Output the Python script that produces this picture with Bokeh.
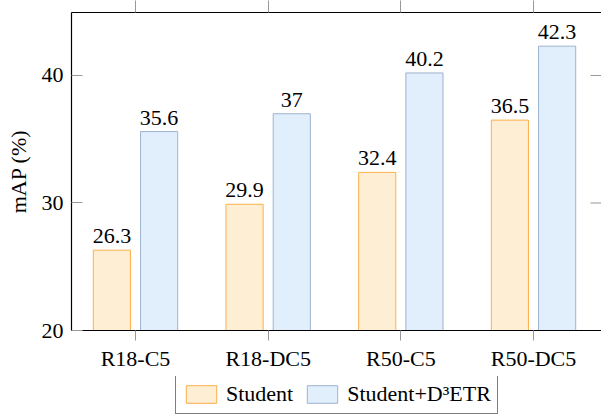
import numpy as np
from bokeh.plotting import figure
from bokeh.models import (Range1d, FixedTicker, LinearAxis, Legend, LegendItem,
                          ColumnDataSource, LabelSet)
from bokeh.layouts import column
from bokeh.transform import dodge
from bokeh.embed import file_html
from bokeh.resources import INLINE

categories = ["R18-C5", "R18-DC5", "R50-C5", "R50-DC5"]
student = [26.3, 29.9, 32.4, 36.5]
d3etr = [35.6, 37, 40.2, 42.3]
y_ticks = [20, 30, 40]
series_names = ["Student", "Student+D³ETR"]

FONT = "Liberation Serif"
FS = "22px"
S_FILL, S_LINE = "#fdeed4", "#fbb04c"
D_FILL, D_LINE = "#e1eefc", "#9db3cf"
TICK_COLOR = "#999999"

X_START, X_END = -0.4824, 3.5125
Y_START, Y_END = 20, 44.94

xs = list(range(len(categories)))
src = ColumnDataSource(dict(
    x=xs,
    student=student,
    d3etr=d3etr,
    student_lbl=[f"{v:g}" for v in student],
    d3etr_lbl=[f"{v:g}" for v in d3etr],
))

p = figure(width=601, height=376, output_backend="svg", toolbar_location=None,
           x_range=Range1d(X_START, X_END), y_range=Range1d(Y_START, Y_END),
           min_border_left=71, min_border_top=12, min_border_right=0, min_border_bottom=46)

p.xgrid.visible = False
p.ygrid.visible = False
p.outline_line_color = None

off = 0.178
bw = 0.28
r1 = p.vbar(x=dodge("x", -off, range=p.x_range), top="student", bottom=Y_START, width=bw,
            source=src, fill_color=S_FILL, line_color=S_LINE, line_width=1)
r2 = p.vbar(x=dodge("x", off, range=p.x_range), top="d3etr", bottom=Y_START, width=bw,
            source=src, fill_color=D_FILL, line_color=D_LINE, line_width=1)

for col, lbl, o in (("student", "student_lbl", -off), ("d3etr", "d3etr_lbl", off)):
    ls = LabelSet(x=dodge("x", o, range=p.x_range), y=col, text=lbl, source=src,
                  text_align="center", text_baseline="alphabetic", y_offset=7,
                  text_font=FONT, text_font_size=FS, text_color="black")
    p.add_layout(ls)

# right-side inner ticks (mirror of the y ticks)
p.ray(x=[X_END] * len(y_ticks), y=y_ticks, length=11, length_units="screen",
      angle=np.pi, line_color=TICK_COLOR, line_width=1)

# bottom axis
xa = p.xaxis[0]
xa.ticker = FixedTicker(ticks=xs)
xa.major_label_overrides = {i: c for i, c in enumerate(categories)}
xa.major_label_text_font = FONT
xa.major_label_text_font_size = FS
xa.major_label_text_color = "black"
xa.major_tick_in = 0
xa.major_tick_out = 10
xa.major_tick_line_color = TICK_COLOR
xa.minor_tick_line_color = None
xa.axis_line_color = "black"
xa.axis_line_width = 1.2
xa.major_label_standoff = 5

# left axis
ya = p.yaxis[0]
ya.ticker = FixedTicker(ticks=y_ticks)
ya.major_label_text_font = FONT
ya.major_label_text_font_size = FS
ya.major_label_text_color = "black"
ya.major_tick_in = 11
ya.major_tick_out = 0
ya.major_tick_line_color = TICK_COLOR
ya.minor_tick_line_color = None
ya.axis_line_color = "black"
ya.axis_line_width = 1.2
ya.axis_label = "mAP (%)"
ya.axis_label_text_font = FONT
ya.axis_label_text_font_size = FS
ya.axis_label_text_font_style = "normal"
ya.axis_label_text_color = "black"
ya.major_label_standoff = 8
ya.axis_label_standoff = 8

# top axis (frame top line, ticks outside, no labels)
ta = LinearAxis(ticker=FixedTicker(ticks=xs), major_label_overrides={t: "" for t in xs},
                major_label_standoff=0, major_tick_in=0, major_tick_out=12,
                major_tick_line_color=TICK_COLOR, minor_tick_line_color=None,
                axis_line_color="black", axis_line_width=1.2)
p.add_layout(ta, "above")

# legend strip below the chart (its renderers are kept out of view)
lg = figure(width=601, height=40, output_backend="svg", toolbar_location=None,
            x_axis_location=None, y_axis_location=None,
            x_range=Range1d(100, 101), y_range=Range1d(100, 101),
            min_border_left=0, min_border_top=0, min_border_right=0, min_border_bottom=0)
lg.outline_line_color = None
lg.xgrid.visible = False
lg.ygrid.visible = False
d1 = lg.vbar(x="x", top="student", width=bw, source=src,
             fill_color=S_FILL, line_color=S_LINE, line_width=1)
d2 = lg.vbar(x="x", top="d3etr", width=bw, source=src,
             fill_color=D_FILL, line_color=D_LINE, line_width=1)

legend = Legend(items=[LegendItem(label=series_names[0], renderers=[d1]),
                       LegendItem(label=series_names[1], renderers=[d2])],
                orientation="horizontal", location=(104, 2),
                label_text_font=FONT, label_text_font_size=FS, label_text_color="black",
                glyph_width=38, glyph_height=22, label_height=22,
                label_standoff=6, spacing=10, padding=6, margin=0,
                border_line_color="black", border_line_width=1.2,
                background_fill_alpha=1)
lg.add_layout(legend, "center")

layout = column(p, lg, spacing=0)
open("out.html", "w").write(file_html(layout, INLINE))
